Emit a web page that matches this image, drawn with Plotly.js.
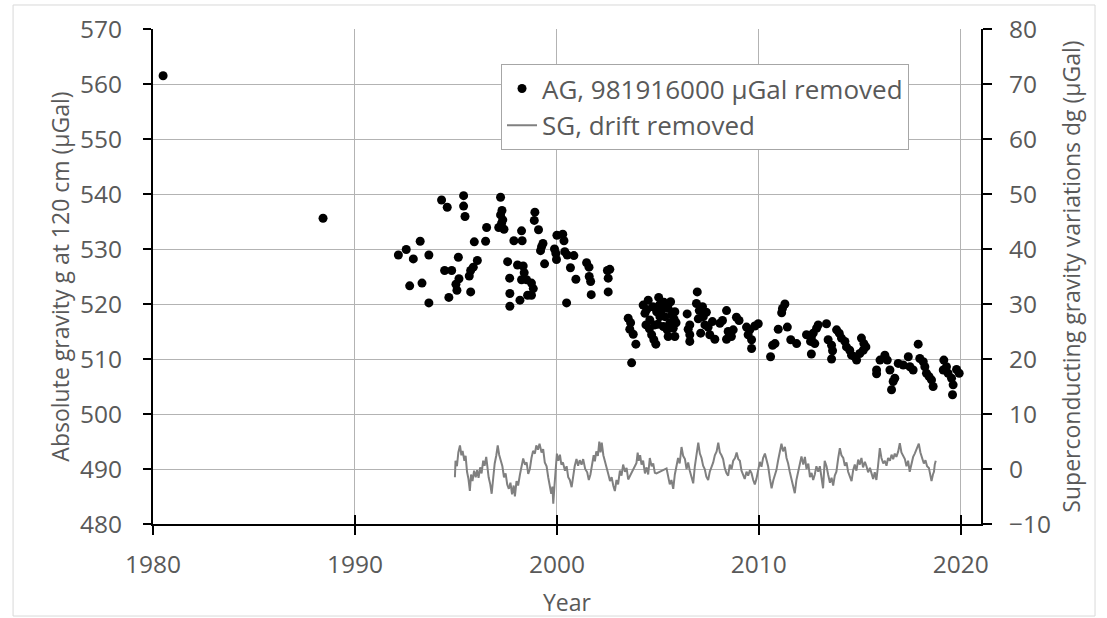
<!DOCTYPE html>
<html>
<head>
<meta charset="utf-8">
<script src="https://cdn.plot.ly/plotly-3.0.1.min.js"></script>
<style>
html,body{margin:0;padding:0;background:#fff;}
#chart{width:1107px;height:618px;}
</style>
</head>
<body>
<div id="chart"></div>
<script>
// Absolute gravity (AG) measurements: decimal year and value (µGal, 981916000 removed)
const agYear = [
1980.5,1988.42,
1992.15,1992.54,1992.71,1992.89,1993.23,1993.32,1993.66,1993.66,1994.29,1994.44,1994.57,1994.65,1994.79,
1995.00,1995.05,1995.12,1995.15,1995.38,1995.38,1995.45,1995.66,1995.73,1995.73,1995.86,1995.91,1996.06,
1996.47,1996.52,1997.21,1997.28,1997.21,1997.32,1997.12,1997.38,1997.26,1997.56,1997.66,1997.67,1997.67,
1997.87,1998.05,1998.17,1998.25,1998.25,1998.28,1998.33,1998.38,1998.50,1998.55,1998.74,1998.74,1998.83,
1998.88,1998.91,1999.09,1999.19,1999.24,1999.31,1999.39,1999.88,1999.95,1999.98,2000.00,2000.29,2000.35,
2000.39,2000.48,2000.51,2000.67,2000.84,2000.94,2001.47,2001.59,2001.60,2001.67,2001.70,2002.50,2002.62,
2002.54,2002.54,
2003.53,2003.61,2003.65,2003.70,2003.78,2003.91,2004.27,2004.36,2004.41,2004.52,2004.60,2004.69,2004.80,
2004.85,2004.90,2004.94,2005.04,2005.07,2005.10,2005.27,2005.35,2005.46,2005.51,2005.51,2005.59,2005.63,
2005.76,2005.81,2005.84,2005.84,2004.45,2004.75,2005.20,2005.30,2005.70,2005.00,2004.58,2005.90,
2006.45,2006.50,2006.58,2006.58,2006.58,2006.91,2006.95,2007.05,2007.12,2007.21,2007.25,2007.33,2007.49,
2007.57,2007.82,2007.00,2007.40,2007.70,2008.07,2008.20,2008.40,2008.40,2008.48,2008.64,2008.73,2008.89,
2009.02,2009.39,2009.47,2009.55,2009.64,2009.64,2009.80,2009.97,2010.58,2010.68,2010.80,2010.96,2011.13,
2011.17,2011.29,2011.41,2011.58,2011.87,
2012.36,2012.56,2012.60,2012.60,2012.69,2012.77,2012.86,2012.94,2013.35,2013.43,2013.60,2013.60,2013.65,
2013.85,2013.98,2014.09,2014.26,2014.34,2014.50,2014.59,2014.75,2014.84,2015.00,2015.08,2015.17,2015.20,
2015.30,2015.83,2015.83,2016.00,2016.24,2016.36,2016.49,2016.57,2016.65,2016.73,2016.90,2017.15,2017.40,
2017.48,2017.64,2017.89,2017.97,2018.14,2018.22,2018.30,2018.43,2018.55,2018.63,2019.13,2019.16,2019.29,
2019.37,2019.54,2019.59,2019.62,2019.79,2019.92
];
const agValue = [
561.5,535.6,
528.9,529.9,523.3,528.2,531.4,523.8,528.9,520.2,538.9,526.1,537.6,521.2,526.1,
523.6,522.5,528.5,524.6,539.7,537.8,535.9,525.1,526.1,522.2,526.7,531.3,527.9,
531.4,533.9,539.4,537.0,536.2,535.3,533.9,533.6,534.7,527.7,524.7,521.9,519.6,
531.5,527.1,520.7,533.3,524.4,531.5,526.9,525.7,524.4,521.6,523.8,521.6,522.8,
535.2,536.7,533.5,529.7,530.4,531.0,527.3,530.0,529.2,528.1,532.5,532.7,531.5,
529.5,520.2,528.9,526.6,528.8,524.5,527.5,526.7,525.0,524.1,521.7,526.1,526.3,
524.7,522.2,
517.4,515.4,516.6,509.3,514.5,512.7,519.8,518.3,516.2,520.7,517.1,514.4,513.5,
516.2,512.7,518.6,521.2,519.8,517.7,515.9,517.7,515.3,519.2,514.1,516.5,520.4,
515.6,517.2,518.6,514.1,519.0,519.5,519.0,520.3,518.0,516.3,515.5,516.6,
518.2,515.4,516.2,514.4,513.2,520.1,522.2,518.8,514.7,519.5,517.7,516.2,515.8,
514.4,513.6,517.3,518.5,516.8,516.5,517.0,518.8,513.6,515.0,514.1,515.3,517.6,
517.0,515.8,514.4,515.3,513.5,511.9,516.0,516.4,510.4,512.5,512.8,515.4,518.4,
519.2,520.0,515.8,513.5,512.8,
514.4,513.2,513.8,510.9,514.7,512.8,515.6,516.2,516.4,513.5,512.5,510.0,511.5,
515.3,514.7,513.8,513.2,512.2,511.6,510.7,510.4,509.8,511.0,513.8,511.6,512.8,
512.2,507.3,508.0,509.8,510.7,509.8,508.0,504.4,505.9,506.5,509.2,508.9,510.4,
508.6,508.0,512.7,510.1,509.5,508.6,507.4,506.8,506.2,505.0,508.0,509.8,508.6,
507.4,506.5,503.5,505.3,508.1,507.4
];

// Superconducting gravimeter (SG) series, drift removed (µGal)
const sgYear = [
1994.95,1994.98,1995.05,1995.12,1995.20,1995.27,1995.33,1995.42,1995.48,1995.55,1995.62,1995.69,1995.75,
1995.82,1995.90,1995.98,1996.05,1996.12,1996.20,1996.27,1996.35,1996.42,1996.50,1996.56,1996.62,1996.70,
1996.77,1996.85,1996.92,1997.00,1997.07,1997.14,1997.22,1997.30,1997.38,1997.46,1997.54,1997.62,1997.70,
1997.78,1997.86,1997.92,1998.00,1998.08,1998.17,1998.25,1998.33,1998.42,1998.50,1998.58,1998.66,1998.74,
1998.82,1998.91,1998.98,1999.06,1999.14,1999.24,1999.32,1999.40,1999.49,1999.57,1999.65,1999.72,1999.78,
1999.82,1999.88,1999.94,2000.00,2000.07,2000.15,2000.22,2000.30,2000.40,2000.48,2000.56,2000.64,2000.73,
2000.80,2000.88,2000.97,2001.05,2001.13,2001.22,2001.30,2001.40,2001.50,2001.58,2001.66,2001.74,2001.82,
2001.88,2001.95,2002.03,2002.10,2002.16,2002.22,2002.30,2002.38,
2002.46,2002.55,2002.63,2002.71,2002.79,2002.87,2002.95,2003.03,2003.12,2003.20,2003.28,2003.37,2003.45,
2003.53,2003.94,2004.00,2004.05,2004.12,2004.19,2004.27,2004.36,2004.44,2004.52,2004.60,2004.69,2004.77,
2004.85,2004.93,2005.43,2005.50,2005.59,2005.67,2005.76,2005.84,2005.92,2006.00,2006.08,2006.17,2006.25,
2006.34,2006.42,2006.50,2006.58,2006.67,2006.75,2006.83,2006.92,2007.00,2007.08,2007.16,2007.24,2007.32,
2007.40,2007.49,2007.57,2007.65,2007.74,2007.82,2007.91,2007.99,2008.07,2008.15,2008.23,2008.31,2008.40,
2008.48,2008.56,2008.65,2008.73,2008.82,2008.90,2008.98,2009.06,2009.14,2009.22,2009.30,2009.39,2009.47,
2009.56,2009.64,2009.72,2009.80,2009.88,2009.96,2010.05,2010.13,2010.21,2010.30,2010.38,
2010.46,2010.55,2010.63,2010.72,2010.80,2010.87,2010.95,2011.04,2011.12,2011.20,2011.29,2011.37,2011.45,
2011.53,2011.62,2011.70,2011.78,2011.86,2011.95,2012.03,2012.11,2012.20,2012.28,2012.36,2012.45,2012.53,
2012.61,2012.69,2012.77,2012.85,2012.94,2013.02,2013.10,2013.18,2013.26,2013.35,2013.43,2013.52,2013.60,
2013.68,2013.76,2013.84,2013.93,2014.01,2014.09,2014.18,2014.26,2014.34,2014.42,2014.50,2014.59,2014.67,
2014.75,2014.83,2014.92,2015.00,2015.08,2015.16,2015.25,2015.33,2015.41,2015.50,2015.58,2015.66,2015.74,
2015.82,2015.90,2015.99,2016.07,2016.16,2016.24,2016.32,2016.40,2016.49,2016.57,2016.65,2016.73,2016.81,
2016.90,2016.98,2017.06,2017.14,2017.23,2017.31,2017.39,2017.47,2017.55,2017.64,2017.72,2017.80,2017.92,
2018.00,2018.08,2018.17,2018.25,2018.33,2018.42,2018.50,2018.55,2018.62,2018.67,2018.71,2018.76
];
const sgValue = [
-1.5,1.5,0.5,3.0,4.3,2.5,3.3,1.5,2.4,-0.5,-1.8,-4.0,-1.0,
-2.2,-0.3,-1.5,-0.2,-1.6,0.3,-0.8,1.5,0.6,2.2,0.2,-1.5,-2.8,
-4.5,-1.5,1.0,2.5,4.3,2.6,1.3,0.5,-1.5,-0.8,-2.8,-3.6,-2.5,
-4.6,-3.0,-5.0,-2.2,-3.0,-1.0,0.5,1.9,0.8,1.2,-0.9,0.0,2.0,
3.3,2.8,4.3,3.5,4.6,3.0,3.6,1.2,0.5,-1.5,-3.0,-4.5,-3.2,
-6.3,-3.0,-0.5,2.8,1.5,2.6,0.8,1.2,-0.3,0.5,-1.5,-2.0,-3.3,
-1.0,0.5,1.8,0.6,1.6,0.8,1.8,0.0,-0.6,-2.0,-1.0,0.5,2.5,
1.4,3.2,2.4,5.0,3.0,4.8,2.5,1.2,
0.3,-1.0,-2.2,-1.5,-3.0,-4.0,-2.0,-2.8,-0.3,-1.2,0.8,-0.5,0.2,
-1.9,1.1,3.0,1.5,2.5,0.8,1.5,-0.8,0.3,-1.0,2.0,0.5,1.0,
-0.7,-0.8,0.1,-1.5,-2.8,-2.0,-3.6,-1.0,0.5,2.0,1.0,4.0,2.4,
1.8,0.0,1.2,-0.3,-1.5,-2.6,0.5,2.5,4.8,2.8,2.0,0.6,0.0,
-1.4,-2.0,-0.5,0.3,1.2,2.5,3.2,4.8,3.0,2.5,1.8,0.2,-0.8,
-1.2,0.8,0.0,1.5,2.0,3.0,1.8,1.5,-0.3,-1.0,-1.8,-0.5,-1.2,
-0.2,-0.8,-2.0,-2.8,-1.8,-0.2,1.3,0.4,2.0,2.8,1.5,
0.5,-1.8,-3.5,-2.0,-1.0,-0.2,1.5,3.0,4.6,3.2,4.0,2.0,1.0,
-0.5,-1.8,-3.0,-4.4,-2.0,-0.5,1.0,2.3,0.8,2.2,0.0,1.0,-1.5,
-0.7,-2.0,-1.0,0.5,-0.5,0.5,-1.5,-3.5,1.5,0.5,-1.0,-2.5,-1.6,
-3.0,-1.2,-0.5,2.0,3.8,2.5,2.0,0.6,1.2,-0.5,-1.5,-2.2,-0.2,
0.8,-0.3,1.7,0.8,2.0,0.3,1.3,0.5,-0.6,0.2,-1.0,-1.8,-0.6,
-2.0,0.5,3.8,2.0,1.0,1.5,0.6,2.0,1.5,2.6,1.8,2.8,2.2,
3.2,4.7,3.0,2.5,1.8,0.5,1.5,-0.5,1.0,2.2,2.8,3.5,4.6,
3.0,2.2,1.0,1.6,0.5,0.2,-1.2,-2.2,-1.0,-0.5,0.8,1.5
];

const xTicks = [1980, 1990, 2000, 2010, 2020];
const yTicks = [480, 490, 500, 510, 520, 530, 540, 550, 560, 570];
const y2Ticks = [-10, 0, 10, 20, 30, 40, 50, 60, 70, 80];

const FONT = 'Open Sans, Noto Sans, sans-serif';
const TXT = '#595959';

const traces = [
  {
    x: agYear, y: agValue, type: 'scatter', mode: 'markers',
    name: 'AG, 981916000 µGal removed',
    legendgroup: 'ag',
    marker: {color: '#000000', size: 9},
    xaxis: 'x', yaxis: 'y'
  },
  {
    x: sgYear, y: sgValue, type: 'scatter', mode: 'lines',
    name: 'SG, drift removed',
    legendgroup: 'sg',
    line: {color: '#808080', width: 2},
    xaxis: 'x2', yaxis: 'y2'
  }
];

const tickFont = {family: FONT, size: 24.5, color: TXT};
const titleFont = {family: FONT, size: 23, color: TXT};

const layout = {
  width: 1107, height: 618,
  margin: {l: 153, r: 126, t: 29, b: 94},
  paper_bgcolor: '#ffffff', plot_bgcolor: '#ffffff',
  font: {family: FONT, color: TXT},
  showlegend: true,
  legend: {
    x: 0.4203, y: 0.929, xanchor: 'left', yanchor: 'top',
    bgcolor: '#ffffff', bordercolor: '#a6a6a6', borderwidth: 1,
    font: {family: FONT, size: 26, color: TXT},
    tracegroupgap: 0
  },
  xaxis: {
    range: [1980, 2021], tickvals: xTicks, ticktext: xTicks.map(String),
    ticks: 'outside', ticklen: 9, tickwidth: 2, tickcolor: '#000',
    ticklabelstandoff: 9,
    showline: true, linecolor: '#000', linewidth: 2,
    showgrid: true, gridcolor: '#b3b3b3', gridwidth: 1, zeroline: false,
    tickfont: tickFont,
    title: {text: 'Year', font: titleFont, standoff: 16}
  },
  xaxis2: {
    overlaying: 'x', anchor: 'y', side: 'bottom',
    range: [1980, 2021], tickvals: xTicks,
    ticks: 'inside', ticklen: 9, tickwidth: 2, tickcolor: '#000',
    showticklabels: false, showline: false, showgrid: false, zeroline: false
  },
  yaxis: {
    range: [480, 570], tickvals: yTicks,
    ticks: 'outside', ticklen: 8, tickwidth: 2, tickcolor: '#000',
    ticklabelstandoff: 16,
    showline: true, linecolor: '#000', linewidth: 2,
    showgrid: true, gridcolor: '#b3b3b3', gridwidth: 1, zeroline: false,
    tickfont: tickFont,
    title: {text: 'Absolute gravity g at 120 cm (µGal)', font: titleFont, standoff: 4}
  },
  yaxis2: {
    overlaying: 'y', side: 'right', anchor: 'x2',
    range: [-10, 80], tickvals: y2Ticks,
    ticks: 'outside', ticklen: 9, tickwidth: 2, tickcolor: '#000',
    ticklabelstandoff: 12,
    showline: true, linecolor: '#000', linewidth: 2,
    showgrid: false, zeroline: false,
    tickfont: tickFont,
    title: {text: 'Superconducting gravity variations dg (µGal)', font: titleFont, standoff: 14}
  },
  shapes: [
    {type: 'rect', xref: 'paper', yref: 'paper',
     x0: -0.169, x1: 1.1377, y0: -0.1859, y1: 1.0485,
     line: {color: '#d9d9d9', width: 1}, fillcolor: 'rgba(0,0,0,0)', layer: 'below'}
  ]
};

Plotly.newPlot('chart', traces, layout, {displayModeBar: false, staticPlot: true});
</script>
</body>
</html>
